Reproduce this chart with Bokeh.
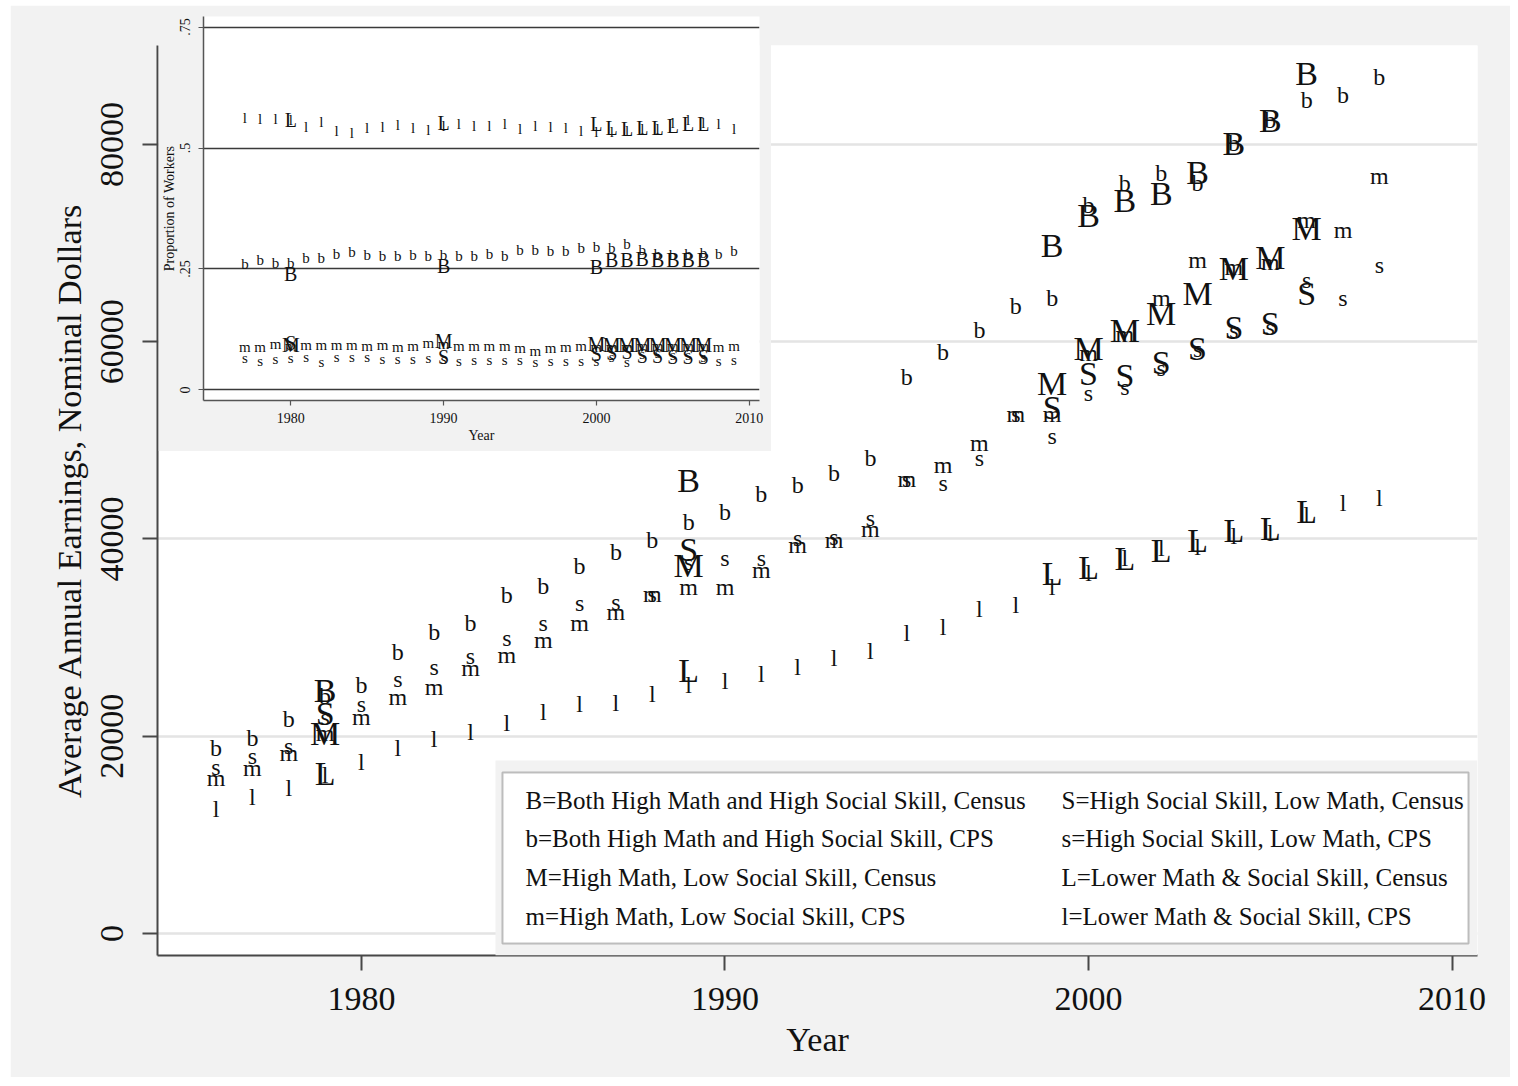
from bokeh.plotting import figure
from bokeh.models import FixedTicker, BoxAnnotation, Label
from bokeh.core.properties import value
from bokeh.embed import file_html
from bokeh.resources import INLINE

FONT = "Liberation Serif"
INK = "#111111"
GRAY_BG = "#f2f2f2"
AXIS = "#474747"

# ---------------- main chart data (average annual earnings, nominal $) ----------------
cps_years = [1976, 1977, 1978, 1979, 1980, 1981, 1982, 1983, 1984, 1985, 1986,
             1987, 1988, 1989, 1990, 1991, 1992, 1993, 1994, 1995, 1996, 1997,
             1998, 1999, 2000, 2001, 2002, 2003, 2004, 2005, 2006, 2007, 2008]
b_cps = [18760, 19870, 21700, 24130, 25150, 28490, 30520, 31430, 34270, 35280, 37210,
         38630, 39850, 41670, 42690, 44510, 45520, 46640, 48160, 56470, 58910, 61140,
         63670, 64480, 73810, 76040, 77060, 76040, 80100, 82430, 84460, 84970, 86790]
s_cps = [16930, 17950, 19060, 21900, 23220, 25850, 26970, 28090, 30010, 31530, 33460,
         33560, 34470, 37620, 38020, 38120, 40050, 40150, 42080, 46130, 45630, 48160,
         52720, 50490, 54750, 55360, 57290, 59310, 61140, 61440, 66210, 64480, 67730]
m_cps = [15720, 16830, 18250, 20280, 21900, 23930, 25040, 26870, 28190, 29710, 31530,
         32550, 34470, 35080, 35080, 36810, 39340, 39850, 41060, 46130, 47450, 49780,
         52720, 52720, 58810, 60830, 64480, 68240, 67530, 68030, 72290, 71280, 76850]
l_cps = [12670, 13790, 14800, 16120, 17340, 18760, 19670, 20480, 21390, 22410, 23220,
         23420, 24330, 25150, 25650, 26360, 26970, 27980, 28690, 30420, 31030, 32950,
         33260, 35080, 36600, 38120, 39040, 39140, 40350, 40560, 42380, 43600, 44110]

census_years = [1979, 1989, 1999, 2000, 2001, 2002, 2003, 2004, 2005, 2006]
B_cen = [24640, 45930, 69760, 72800, 74320, 75030, 77160, 80100, 82430, 87200]
S_cen = [22310, 38930, 53330, 56780, 56580, 57890, 59310, 61440, 61850, 64890]
M_cen = [20280, 37310, 55770, 59310, 61140, 62860, 64890, 67420, 68540, 71480]
L_cen = [16220, 26670, 36500, 37110, 38020, 38830, 39850, 40860, 41060, 42790]

x_ticks = [1980, 1990, 2000, 2010]
y_ticks = [0, 20000, 40000, 60000, 80000]
y_tick_labels = ["0", "20000", "40000", "60000", "80000"]

legend_left = ["B=Both High Math and High Social Skill, Census",
               "b=Both High Math and High Social Skill, CPS",
               "M=High Math, Low Social Skill, Census",
               "m=High Math, Low Social Skill, CPS"]
legend_right = ["S=High Social Skill, Low Math, Census",
                "s=High Social Skill, Low Math, CPS",
                "L=Lower Math & Social Skill, Census",
                "l=Lower Math & Social Skill, CPS"]

# ---------------- inset data (proportion of workers) ----------------
ins_cps_years = [1977, 1978, 1979, 1980, 1981, 1982, 1983, 1984, 1985, 1986, 1987,
                 1988, 1989, 1990, 1991, 1992, 1993, 1994, 1995, 1996, 1997, 1998,
                 1999, 2000, 2001, 2002, 2003, 2004, 2005, 2006, 2007, 2008, 2009]
ins_l = [0.562, 0.560, 0.560, 0.557, 0.544, 0.553, 0.536, 0.531, 0.541, 0.544, 0.548,
         0.542, 0.538, 0.546, 0.549, 0.546, 0.546, 0.549, 0.540, 0.546, 0.543, 0.542,
         0.535, 0.534, 0.533, 0.535, 0.540, 0.540, 0.551, 0.557, 0.551, 0.549, 0.540]
ins_b = [0.261, 0.269, 0.262, 0.263, 0.273, 0.273, 0.280, 0.285, 0.278, 0.276, 0.276,
         0.279, 0.276, 0.278, 0.276, 0.276, 0.280, 0.277, 0.290, 0.290, 0.287, 0.287,
         0.294, 0.296, 0.294, 0.301, 0.289, 0.280, 0.278, 0.280, 0.283, 0.280, 0.287]
ins_m = [0.0885, 0.0885, 0.0954, 0.0919, 0.0940, 0.0933, 0.0933, 0.0933, 0.0919, 0.0933, 0.0885,
         0.0906, 0.0968, 0.0954, 0.0919, 0.0919, 0.0899, 0.0899, 0.0864, 0.0816, 0.0864, 0.0885,
         0.0899, 0.0885, 0.0885, 0.0885, 0.0906, 0.0906, 0.0919, 0.0919, 0.0919, 0.0885, 0.0919]
ins_s = [0.0665, 0.0596, 0.0644, 0.0665, 0.0678, 0.0575, 0.0692, 0.0692, 0.0678, 0.0644, 0.0644,
         0.0644, 0.0665, 0.0644, 0.0609, 0.0623, 0.0623, 0.0623, 0.0623, 0.0575, 0.0596, 0.0596,
         0.0596, 0.0596, 0.0692, 0.0575, 0.0747, 0.0758, 0.0733, 0.0713, 0.0692, 0.0609, 0.0623]

ins_census_years = [1980, 1990, 2000, 2001, 2002, 2003, 2004, 2005, 2006, 2007]
ins_L = [0.557, 0.551, 0.549, 0.541, 0.540, 0.542, 0.541, 0.546, 0.550, 0.549]
ins_B = [0.239, 0.257, 0.254, 0.268, 0.268, 0.271, 0.268, 0.268, 0.268, 0.268]
ins_M = [0.092, 0.101, 0.095, 0.093, 0.093, 0.092, 0.093, 0.092, 0.092, 0.093]
ins_S = [0.097, 0.069, 0.075, 0.077, 0.078, 0.071, 0.071, 0.068, 0.069, 0.068]

ins_y_ticks = [0, 0.25, 0.5, 0.75]
ins_y_tick_labels = ["0", ".25", ".5", ".75"]

# ---------------- main figure ----------------
X0, X1 = 1974.39, 2010.70
Y0, Y1 = -2230, 90030
FL, FT, FW, FH = 147, 40, 1320, 910   # frame left/top/width/height inside the figure

p = figure(frame_width=FW, frame_height=FH, x_range=(X0, X1), y_range=(Y0, Y1),
           output_backend="svg", toolbar_location=None,
           min_border_left=FL, min_border_right=33, min_border_top=FT, min_border_bottom=122)
p.margin = (5, 0, 0, 10)
p.background_fill_color = "white"
p.border_fill_color = GRAY_BG
p.outline_line_color = None

p.xaxis.ticker = FixedTicker(ticks=x_ticks)
p.yaxis.ticker = FixedTicker(ticks=y_ticks)
p.yaxis.major_label_overrides = {t: s for t, s in zip(y_ticks, y_tick_labels)}
p.xgrid.grid_line_color = None
p.ygrid.ticker = FixedTicker(ticks=y_ticks)
p.ygrid.grid_line_color = "#e4e4e4"
p.ygrid.grid_line_width = 2.5

for ax in (p.xaxis[0], p.yaxis[0]):
    ax.axis_line_color = AXIS
    ax.axis_line_width = 2
    ax.major_tick_line_color = AXIS
    ax.major_tick_line_width = 2
    ax.major_tick_out = 15
    ax.major_tick_in = 0
    ax.minor_tick_line_color = None
    ax.major_label_text_font = FONT
    ax.major_label_text_font_size = "34px"
    ax.major_label_text_color = INK
    ax.axis_label_text_font = FONT
    ax.axis_label_text_font_size = "34px"
    ax.axis_label_text_font_style = "normal"
    ax.axis_label_text_color = INK

p.yaxis.major_label_orientation = "vertical"
p.yaxis.major_label_standoff = 19
p.yaxis.axis_label_standoff = 11
p.xaxis.major_label_standoff = 17
p.xaxis.axis_label_standoff = 8
p.xaxis.axis_label = "Year"
p.yaxis.axis_label = "Average Annual Earnings, Nominal Dollars"


def add_letters(fig, xs, ys, letter, size):
    fig.text(x=xs, y=ys, text=[letter] * len(xs), text_font=value(FONT),
             text_font_size=size, text_align="center", text_baseline="middle",
             text_color=INK)


add_letters(p, cps_years, l_cps, "l", "24px")
add_letters(p, cps_years, m_cps, "m", "24px")
add_letters(p, cps_years, s_cps, "s", "24px")
add_letters(p, cps_years, b_cps, "b", "24px")
add_letters(p, census_years, L_cen, "L", "34px")
add_letters(p, census_years, M_cen, "M", "34px")
add_letters(p, census_years, S_cen, "S", "34px")
add_letters(p, census_years, B_cen, "B", "34px")


# legend (drawn as annotations, positioned by screen pixels inside the frame)
def dx(px):  # px measured from frame left
    return X0 + px * (X1 - X0) / FW


def dy(py):  # py measured from frame top
    return Y1 - py * (Y1 - Y0) / FH


p.add_layout(BoxAnnotation(left=dx(338), top=dy(715), fill_color=GRAY_BG, fill_alpha=1,
                           line_alpha=0))
p.add_layout(BoxAnnotation(left=dx(345), right=dx(1311), top=dy(727), bottom=dy(898),
                           fill_color="white", fill_alpha=1, line_color="#333333",
                           line_width=2))
row_px = [755, 793, 832, 871]
for i in range(4):
    for txt, xpx in ((legend_left[i], 368), (legend_right[i], 904)):
        p.add_layout(Label(x=dx(xpx), y=dy(row_px[i]), text=txt, text_font=FONT,
                           text_font_size="25px", text_color=INK,
                           text_align="left", text_baseline="middle"))

# ---------------- inset figure ----------------
q = figure(frame_width=556, frame_height=384, x_range=(1974.29, 2010.67),
           y_range=(-0.0217, 0.7717), output_backend="svg", toolbar_location=None,
           min_border_left=45, min_border_right=12, min_border_top=2, min_border_bottom=51)
q.styles = {"position": "absolute", "left": "158px", "top": "14px", "z-index": "5"}
q.background_fill_color = "white"
q.border_fill_color = GRAY_BG
q.outline_line_color = None
q.xaxis.ticker = FixedTicker(ticks=x_ticks)
q.yaxis.ticker = FixedTicker(ticks=ins_y_ticks)
q.yaxis.major_label_overrides = {t: s for t, s in zip(ins_y_ticks, ins_y_tick_labels)}
q.xgrid.grid_line_color = None
q.ygrid.ticker = FixedTicker(ticks=ins_y_ticks)
q.ygrid.grid_line_color = "#3a3a3a"
q.ygrid.grid_line_width = 1.5
for ax in (q.xaxis[0], q.yaxis[0]):
    ax.axis_line_color = "#555555"
    ax.axis_line_width = 1.5
    ax.major_tick_line_color = "#555555"
    ax.major_tick_line_width = 1.2
    ax.major_tick_out = 5
    ax.major_tick_in = 0
    ax.minor_tick_line_color = None
    ax.major_label_text_font = FONT
    ax.major_label_text_font_size = "14px"
    ax.major_label_text_color = INK
    ax.axis_label_text_font = FONT
    ax.axis_label_text_font_size = "14px"
    ax.axis_label_text_font_style = "normal"
    ax.axis_label_text_color = INK
q.yaxis.major_label_orientation = "vertical"
q.yaxis.major_label_standoff = 8
q.yaxis.axis_label_standoff = 1
q.xaxis.major_label_standoff = 7
q.xaxis.axis_label_standoff = 2
q.xaxis.axis_label = "Year"
q.yaxis.axis_label = "Proportion of Workers"

add_letters(q, ins_cps_years, ins_l, "l", "15px")
add_letters(q, ins_cps_years, ins_b, "b", "15px")
add_letters(q, ins_cps_years, ins_m, "m", "15px")
add_letters(q, ins_cps_years, ins_s, "s", "15px")
add_letters(q, ins_census_years, ins_L, "L", "20px")
add_letters(q, ins_census_years, ins_B, "B", "20px")
add_letters(q, ins_census_years, ins_M, "M", "20px")
add_letters(q, ins_census_years, ins_S, "S", "20px")

open("out.html", "w").write(file_html([p, q], INLINE))
